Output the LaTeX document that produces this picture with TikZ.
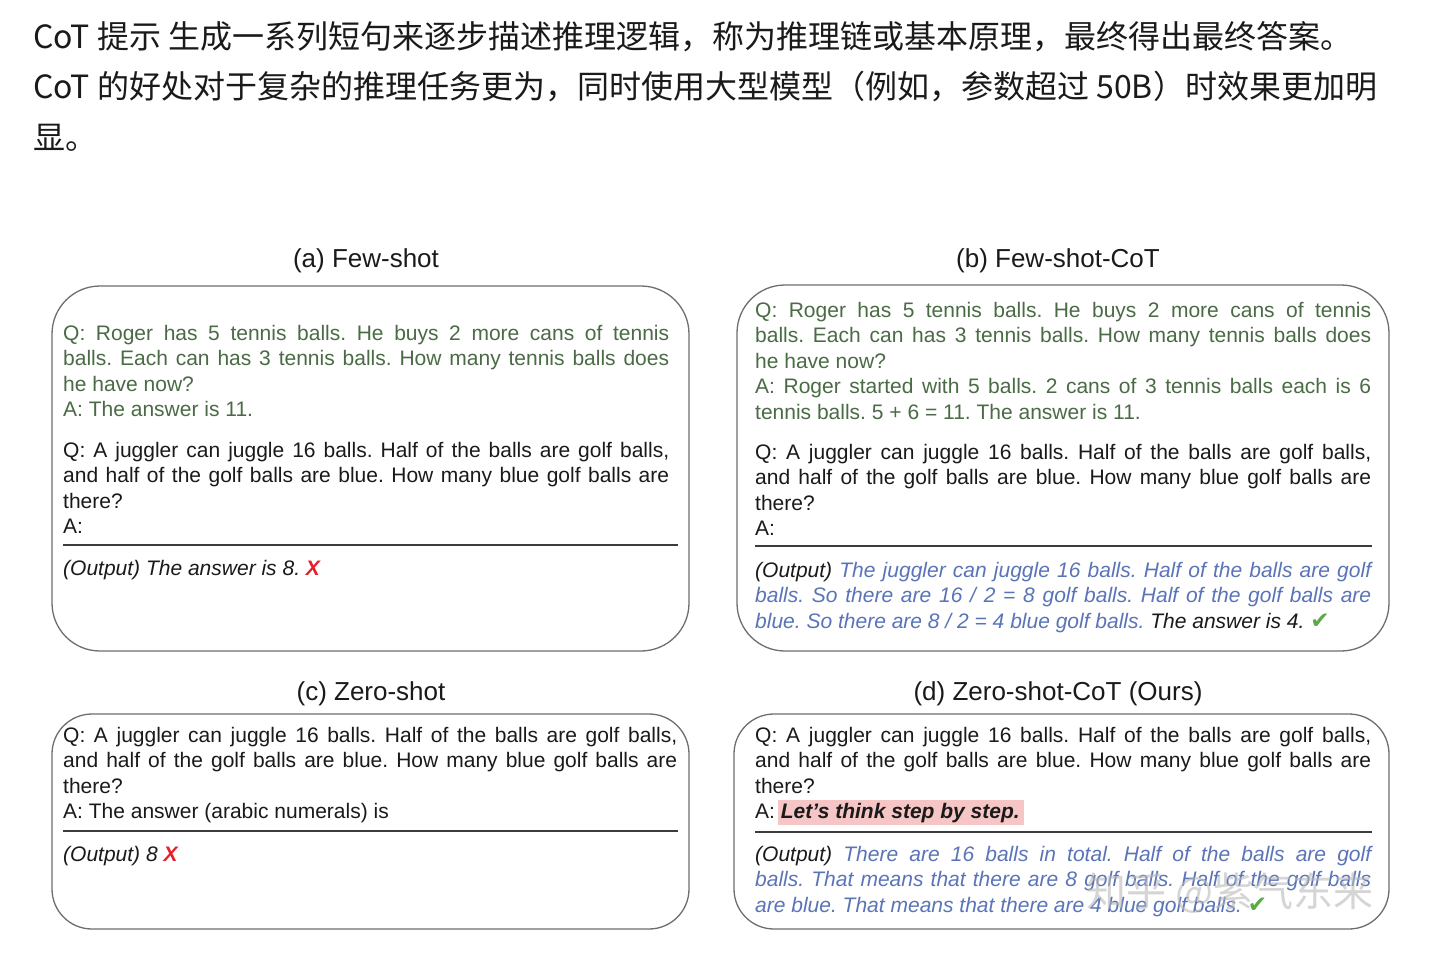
\documentclass[tikz,border=0pt]{standalone}
\usepackage{fontspec}
\setmainfont{Liberation Sans}
\newfontfamily\cjk{Noto Sans CJK SC}
\newfontfamily\djv{DejaVu Sans}
\definecolor{qgreen}{HTML}{4A6B45}
\definecolor{cotblue}{HTML}{5A74B8}
\definecolor{xred}{HTML}{E4202A}
\definecolor{okgreen}{HTML}{5AAA45}
\definecolor{hlpink}{HTML}{F6C6C6}
\definecolor{boxgray}{HTML}{6E6E6E}
\definecolor{ink}{HTML}{1A1A1A}
\newcommand\jl[1]{\hbox to\hsize{#1}}
\newcommand\rl[1]{\hbox{#1}}
\newcommand\wrongmark{\textcolor{xred}{\textbf{\textit{X}}}}
\newcommand\okmark{{\djv\fontsize{23}{20}\selectfont\textcolor{okgreen}{✔}}}
\hbadness=10000
\hfuzz=20pt
\frenchspacing
\begin{document}
\frenchspacing
\begin{tikzpicture}[x=1pt,y=-1pt,
  cjkline/.style={anchor=base west,inner sep=0,text=ink,font=\cjk\fontsize{32}{40}\selectfont},
  ttl/.style={anchor=base,inner sep=0,text=ink,font=\fontsize{26}{30}\selectfont},
  blk/.style={anchor=base west,inner sep=0,text=ink,font=\fontsize{21}{25.6}\selectfont\frenchspacing},
  panel/.style={draw=boxgray,line width=1.3pt,inner sep=0,rectangle},
  sep/.style={draw=ink!85,line width=1.8pt},
  hl/.style={fill=hlpink,draw=none,inner sep=0},
  wm/.style={inner sep=0,text=gray!55,opacity=0.6,font=\cjk\fontsize{40}{44}\selectfont}]
\useasboundingbox[fill=white] (0,0) rectangle (1446,958);

% top text
\node[cjkline] (l1) at (33,49) {CoT 提示 生成一系列短句来逐步描述推理逻辑，称为推理链或基本原理，最终得出最终答案。};
\node[cjkline] (l2) at (33,99) {CoT 的好处对于复杂的推理任务更为，同时使用大型模型（例如，参数超过 50B）时效果更加明};
\node[cjkline] (l3) at (33,149) {显。};

% titles
\node[ttl] (ta) at (366,267) {(a) Few-shot};
\node[ttl] (tb) at (1058,267) {(b) Few-shot-CoT};
\node[ttl] (tc) at (371,700) {(c) Zero-shot};
\node[ttl] (td) at (1058,700) {(d) Zero-shot-CoT (Ours)};

% panels
\node[panel,rounded corners=48pt,minimum width=637pt,minimum height=365pt] (pa) at (370.5,468.5) {};
\node[panel,rounded corners=48pt,minimum width=652pt,minimum height=366pt] (pb) at (1063,468) {};
\node[panel,rounded corners=40pt,minimum width=637pt,minimum height=215pt] (pc) at (370.5,821.5) {};
\node[panel,rounded corners=40pt,minimum width=655pt,minimum height=215pt] (pd) at (1061.5,821.5) {};

% (a)
\node[blk,text=qgreen] (a1) at (63,340) {\vtop{\hsize=606pt
\jl{Q: Roger has 5 tennis balls. He buys 2 more cans of tennis}
\jl{balls. Each can has 3 tennis balls. How many tennis balls does}
\rl{he have now?}
\rl{A: The answer is 11.}}};
\node[blk] (a2) at (63,457) {\vtop{\hsize=606pt
\jl{Q: A juggler can juggle 16 balls. Half of the balls are golf balls,}
\jl{and half of the golf balls are blue. How many blue golf balls are}
\rl{there?}
\rl{A:}}};
\coordinate (ra1) at (63,545);
\coordinate (ra2) at (678,545);
\draw[sep] (ra1) -- (ra2);
\node[blk] (a3) at (63,575) {\textit{(Output) The answer is 8.} \wrongmark};

% (b)
\node[blk,text=qgreen] (b1) at (755,317) {\vtop{\hsize=616pt
\jl{Q: Roger has 5 tennis balls. He buys 2 more cans of tennis}
\jl{balls. Each can has 3 tennis balls. How many tennis balls does}
\rl{he have now?}
\jl{A: Roger started with 5 balls. 2 cans of 3 tennis balls each is 6}
\rl{tennis balls. 5 + 6 = 11. The answer is 11.}}};
\node[blk] (b2) at (755,459) {\vtop{\hsize=616pt
\jl{Q: A juggler can juggle 16 balls. Half of the balls are golf balls,}
\jl{and half of the golf balls are blue. How many blue golf balls are}
\rl{there?}
\rl{A:}}};
\coordinate (rb1) at (755,546);
\coordinate (rb2) at (1372,546);
\draw[sep] (rb1) -- (rb2);
\node[blk] (b3) at (755,577) {\vtop{\hsize=616pt\itshape
\jl{(Output) \textcolor{cotblue}{The juggler can juggle 16 balls. Half of the balls are golf}}
\jl{\textcolor{cotblue}{balls. So there are 16 / 2 = 8 golf balls. Half of the golf balls are}}
\rl{\textcolor{cotblue}{blue. So there are 8 / 2 = 4 blue golf balls.} The answer is 4. \upshape\okmark}}};

% (c)
\node[blk] (c1) at (63,742) {\vtop{\hsize=614pt
\jl{Q: A juggler can juggle 16 balls. Half of the balls are golf balls,}
\jl{and half of the golf balls are blue. How many blue golf balls are}
\rl{there?}
\rl{A: The answer (arabic numerals) is}}};
\coordinate (rc1) at (63,831);
\coordinate (rc2) at (678,831);
\draw[sep] (rc1) -- (rc2);
\node[blk] (c3) at (63,861) {\textit{(Output) 8} \wrongmark};

% (d)
\node[hl,minimum width=246pt,minimum height=25pt] (hd) at (901,812.5) {};
\node[blk] (d1) at (755,742) {\vtop{\hsize=616pt
\jl{Q: A juggler can juggle 16 balls. Half of the balls are golf balls,}
\jl{and half of the golf balls are blue. How many blue golf balls are}
\rl{there?}
\rl{A: \textbf{\textit{Let’s think step by step.}}}}};
\coordinate (rd1) at (755,832);
\coordinate (rd2) at (1372,832);
\draw[sep] (rd1) -- (rd2);
\node[blk] (d3) at (755,861) {\vtop{\hsize=616pt\itshape
\jl{(Output) \textcolor{cotblue}{There are 16 balls in total. Half of the balls are golf}}
\jl{\textcolor{cotblue}{balls. That means that there are 8 golf balls. Half of the golf balls}}
\rl{\textcolor{cotblue}{are blue. That means that there are 4 blue golf balls.} \upshape\okmark}}};

% watermark
\node[wm] (wmk) at (1230,893) {知乎 @紫气东来};
\end{tikzpicture}
\end{document}
